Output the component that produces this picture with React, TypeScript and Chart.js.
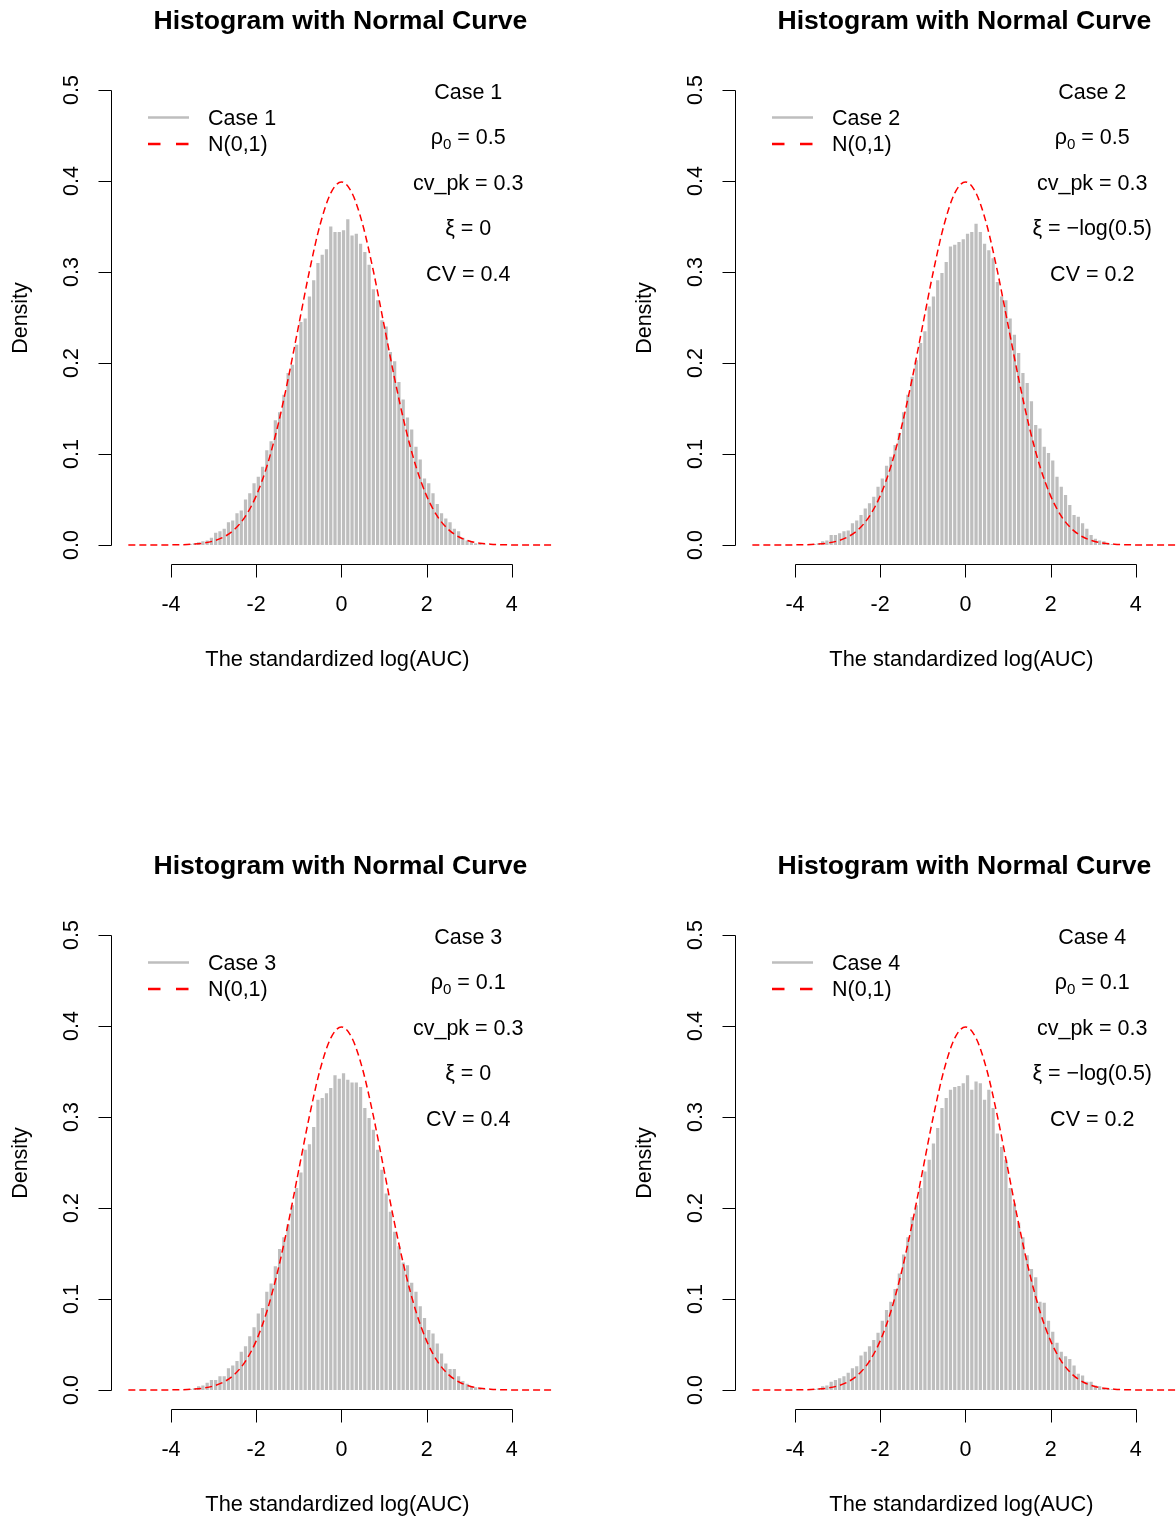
import React, { useEffect, useRef } from "react";
import { Chart, registerables } from "chart.js";

Chart.register(...registerables);

// ---------- data ----------
const BIN_CENTERS = [
  -3.55, -3.45, -3.35, -3.25, -3.15, -3.05, -2.95, -2.85, -2.75, -2.65,
  -2.55, -2.45, -2.35, -2.25, -2.15, -2.05, -1.95, -1.85, -1.75, -1.65,
  -1.55, -1.45, -1.35, -1.25, -1.15, -1.05, -0.95, -0.85, -0.75, -0.65,
  -0.55, -0.45, -0.35, -0.25, -0.15, -0.05, 0.05, 0.15, 0.25, 0.35,
  0.45, 0.55, 0.65, 0.75, 0.85, 0.95, 1.05, 1.15, 1.25, 1.35,
  1.45, 1.55, 1.65, 1.75, 1.85, 1.95, 2.05, 2.15, 2.25, 2.35,
  2.45, 2.55, 2.65, 2.75, 2.85, 2.95, 3.05, 3.15, 3.25, 3.35,
  3.45,
];

const CASE1_DENSITY = [
  0.001, 0.002, 0.003, 0.004, 0.005, 0.008, 0.0135, 0.015, 0.018, 0.025,
  0.027, 0.035, 0.038, 0.05, 0.057, 0.068, 0.075, 0.086, 0.104, 0.114,
  0.137, 0.146, 0.165, 0.189, 0.198, 0.22, 0.245, 0.249, 0.273, 0.291,
  0.31, 0.319, 0.325, 0.35, 0.344, 0.344, 0.346, 0.358, 0.34, 0.342,
  0.331, 0.322, 0.308, 0.281, 0.269, 0.247, 0.24, 0.212, 0.202, 0.179,
  0.16, 0.14, 0.127, 0.108, 0.094, 0.073, 0.068, 0.057, 0.045, 0.035,
  0.029, 0.025, 0.018, 0.015, 0.008, 0.005, 0.004, 0.002, 0.001, 0.0005,
  0,
];

const CASE2_DENSITY = [
  0.001, 0.002, 0.004, 0.005, 0.011, 0.011, 0.013, 0.015, 0.016, 0.024,
  0.027, 0.033, 0.04, 0.046, 0.053, 0.064, 0.073, 0.087, 0.097, 0.11,
  0.123, 0.146, 0.165, 0.185, 0.203, 0.222, 0.235, 0.262, 0.273, 0.291,
  0.299, 0.311, 0.328, 0.33, 0.333, 0.336, 0.342, 0.344, 0.353, 0.344,
  0.331, 0.324, 0.315, 0.289, 0.273, 0.269, 0.249, 0.231, 0.211, 0.189,
  0.178, 0.158, 0.132, 0.128, 0.108, 0.101, 0.093, 0.075, 0.064, 0.055,
  0.044, 0.033, 0.031, 0.024, 0.018, 0.011, 0.007, 0.005, 0.004, 0.002,
  0.001,
];

const CASE3_DENSITY = [
  0.001, 0.002, 0.004, 0.005, 0.008, 0.011, 0.011, 0.015, 0.015, 0.024,
  0.027, 0.032, 0.042, 0.048, 0.059, 0.069, 0.084, 0.09, 0.108, 0.117,
  0.136, 0.155, 0.168, 0.182, 0.203, 0.222, 0.239, 0.264, 0.27, 0.289,
  0.319, 0.321, 0.326, 0.332, 0.346, 0.342, 0.348, 0.341, 0.338, 0.338,
  0.333, 0.31, 0.299, 0.286, 0.264, 0.242, 0.216, 0.196, 0.174, 0.158,
  0.14, 0.137, 0.118, 0.108, 0.092, 0.079, 0.066, 0.062, 0.051, 0.04,
  0.029, 0.023, 0.023, 0.015, 0.01, 0.007, 0.004, 0.003, 0.0015, 0.0005,
  0,
];

const CASE4_DENSITY = [
  0.001, 0.002, 0.004, 0.005, 0.009, 0.011, 0.013, 0.015, 0.019, 0.024,
  0.026, 0.038, 0.042, 0.048, 0.055, 0.063, 0.076, 0.088, 0.097, 0.111,
  0.128, 0.149, 0.168, 0.19, 0.203, 0.222, 0.24, 0.253, 0.271, 0.288,
  0.31, 0.321, 0.33, 0.333, 0.334, 0.337, 0.346, 0.33, 0.339, 0.337,
  0.319, 0.33, 0.31, 0.282, 0.267, 0.253, 0.222, 0.205, 0.184, 0.168,
  0.148, 0.133, 0.124, 0.097, 0.096, 0.076, 0.064, 0.052, 0.042, 0.037,
  0.034, 0.027, 0.018, 0.016, 0.009, 0.009, 0.005, 0.004, 0.002, 0.0015,
  0.001,
];

// N(0,1) density curve, tabulated
const CURVE_X = [
  -5, -4.5, -4, -3.75, -3.5, -3.25, -3, -2.75, -2.5, -2.25, -2, -1.75, -1.5,
  -1.25, -1, -0.75, -0.5, -0.25, 0, 0.25, 0.5, 0.75, 1, 1.25, 1.5, 1.75, 2,
  2.25, 2.5, 2.75, 3, 3.25, 3.5, 3.75, 4, 4.5, 5,
];
const CURVE_Y = [
  0.0000015, 0.000016, 0.000134, 0.000353, 0.000873, 0.002029, 0.004432,
  0.009094, 0.017528, 0.03174, 0.053991, 0.086277, 0.129518, 0.182649,
  0.241971, 0.301137, 0.352065, 0.386668, 0.398942, 0.386668, 0.352065,
  0.301137, 0.241971, 0.182649, 0.129518, 0.086277, 0.053991, 0.03174,
  0.017528, 0.009094, 0.004432, 0.002029, 0.000873, 0.000353, 0.000134,
  0.000016, 0.0000015,
];

const X_TICKS = [-4, -2, 0, 2, 4];
const X_TICK_LABELS = ["-4", "-2", "0", "2", "4"];
const Y_TICKS = [0, 0.1, 0.2, 0.3, 0.4, 0.5];
const Y_TICK_LABELS = ["0.0", "0.1", "0.2", "0.3", "0.4", "0.5"];

const CASE_NAMES = ["Case 1", "Case 2", "Case 3", "Case 4"];
const RHO_VALUES = ["0.5", "0.5", "0.1", "0.1"];
const CVPK_VALUES = ["0.3", "0.3", "0.3", "0.3"];
const XI_VALUES = ["0", "\u2212log(0.5)", "0", "\u2212log(0.5)"];
const CV_VALUES = ["0.4", "0.2", "0.4", "0.2"];
const CASE_VALUES = [CASE1_DENSITY, CASE2_DENSITY, CASE3_DENSITY, CASE4_DENSITY];

const ANNOT_X = 3;
const ANNOT_Y = [0.5, 0.45, 0.4, 0.35, 0.3];

const TITLE = "Histogram with Normal Curve";
const X_TITLE = "The standardized log(AUC)";
const Y_TITLE = "Density";
const LEGEND_CURVE = "N(0,1)";

// ---------- styling ----------
const FONT = '"Liberation Sans", Arial, Helvetica, sans-serif';
const FS = 21.5;
const W = 588;
const H = 674;
const POSITIONS = [
  { left: 0, top: 0 },
  { left: 624, top: 0 },
  { left: 0, top: 845 },
  { left: 624, top: 845 },
];

type Part = { t: string; sub?: boolean };

function drawMath(ctx: CanvasRenderingContext2D, parts: Part[], cx: number, cy: number) {
  const widths = parts.map((p) => {
    ctx.font = `${p.sub ? FS * 0.7 : FS}px ${FONT}`;
    return ctx.measureText(p.t).width;
  });
  const total = widths.reduce((a, b) => a + b, 0);
  let xx = cx - total / 2;
  const base = cy + FS * 0.36;
  ctx.textAlign = "left";
  ctx.textBaseline = "alphabetic";
  parts.forEach((p, i) => {
    ctx.font = `${p.sub ? FS * 0.7 : FS}px ${FONT}`;
    ctx.fillText(p.t, xx, base + (p.sub ? FS * 0.2 : 0));
    xx += widths[i];
  });
}

function rPlugin(idx: number) {
  return {
    id: "rstyle" + idx,
    afterDraw(chart: any) {
      const { ctx, chartArea: a, scales } = chart;
      const xs = scales.x;
      const ys = scales.y;
      ctx.save();
      ctx.setLineDash([]);
      ctx.strokeStyle = "#000";
      ctx.lineWidth = 1;

      // x axis
      const yb = Math.round(a.bottom) + 0.5;
      ctx.beginPath();
      ctx.moveTo(Math.round(xs.getPixelForValue(X_TICKS[0])) + 0.5, yb);
      ctx.lineTo(Math.round(xs.getPixelForValue(X_TICKS[X_TICKS.length - 1])) + 0.5, yb);
      X_TICKS.forEach((v) => {
        const px = Math.round(xs.getPixelForValue(v)) + 0.5;
        ctx.moveTo(px, yb);
        ctx.lineTo(px, yb + 13);
      });
      // y axis
      const xl = Math.round(a.left) + 0.5;
      ctx.moveTo(xl, Math.round(ys.getPixelForValue(Y_TICKS[0])) + 0.5);
      ctx.lineTo(xl, Math.round(ys.getPixelForValue(Y_TICKS[Y_TICKS.length - 1])) + 0.5);
      Y_TICKS.forEach((v) => {
        const py = Math.round(ys.getPixelForValue(v)) + 0.5;
        ctx.moveTo(xl, py);
        ctx.lineTo(xl - 13, py);
      });
      ctx.stroke();

      ctx.fillStyle = "#000";
      ctx.font = `${FS}px ${FONT}`;
      ctx.textAlign = "center";
      ctx.textBaseline = "middle";
      X_TICKS.forEach((v, i) => {
        ctx.fillText(X_TICK_LABELS[i], xs.getPixelForValue(v), a.bottom + 40.5);
      });
      Y_TICKS.forEach((v, i) => {
        ctx.save();
        ctx.translate(a.left - 39.5, ys.getPixelForValue(v));
        ctx.rotate(-Math.PI / 2);
        ctx.fillText(Y_TICK_LABELS[i], 0, 0);
        ctx.restore();
      });

      const cx = (a.left + a.right) / 2;
      // axis titles
      ctx.font = `${FS + 0.3}px ${FONT}`;
      ctx.fillText(X_TITLE, cx - 4, a.bottom + 95.5);
      ctx.font = `${FS}px ${FONT}`;
      ctx.save();
      ctx.translate(21, (ys.getPixelForValue(0) + ys.getPixelForValue(0.5)) / 2 + 0.5);
      ctx.rotate(-Math.PI / 2);
      ctx.fillText(Y_TITLE, 0, 0);
      ctx.restore();

      // main title
      ctx.font = `bold 26.6px ${FONT}`;
      ctx.textBaseline = "alphabetic";
      ctx.fillText(TITLE, cx - 1, 28.5);

      // legend
      ctx.lineWidth = 2.5;
      ctx.strokeStyle = "#BEBEBE";
      ctx.beginPath();
      ctx.moveTo(148, 117.5);
      ctx.lineTo(189, 117.5);
      ctx.stroke();
      ctx.strokeStyle = "#FF0000";
      ctx.setLineDash([12.5, 15.5]);
      ctx.beginPath();
      ctx.moveTo(148, 144);
      ctx.lineTo(189, 144);
      ctx.stroke();
      ctx.setLineDash([]);
      ctx.font = `${FS}px ${FONT}`;
      ctx.textAlign = "left";
      ctx.textBaseline = "middle";
      ctx.fillText(CASE_NAMES[idx], 208, 119);
      ctx.fillText(LEGEND_CURVE, 208, 145.5);

      // annotations
      const ax = xs.getPixelForValue(ANNOT_X);
      const lines: Part[][] = [
        [{ t: CASE_NAMES[idx] }],
        [{ t: "\u03C1" }, { t: "0", sub: true }, { t: " = " + RHO_VALUES[idx] }],
        [{ t: "cv_pk = " + CVPK_VALUES[idx] }],
        [{ t: "\u03BE = " + XI_VALUES[idx] }],
        [{ t: "CV = " + CV_VALUES[idx] }],
      ];
      lines.forEach((parts, i) => {
        drawMath(ctx, parts, ax - 1, ys.getPixelForValue(ANNOT_Y[i]) + 1);
      });

      ctx.restore();
    },
  };
}

function Panel({ idx }: { idx: number }) {
  const ref = useRef<HTMLCanvasElement | null>(null);
  useEffect(() => {
    if (!ref.current) return;
    const values = CASE_VALUES[idx];
    const chart = new Chart(ref.current, {
      type: "bar",
      data: {
        datasets: [
          {
            type: "line",
            data: CURVE_X.map((x, i) => ({ x, y: CURVE_Y[i] })),
            borderColor: "#FF0000",
            borderWidth: 1.5,
            borderDash: [7, 4],
            pointRadius: 0,
            fill: false,
            cubicInterpolationMode: "monotone",
            order: 0,
          } as any,
          {
            type: "bar",
            data: BIN_CENTERS.map((x, i) => ({ x, y: values[i] })),
            backgroundColor: "#BEBEBE",
            borderWidth: 0,
            categoryPercentage: 1,
            barPercentage: 0.76,
            order: 1,
          } as any,
        ],
      },
      options: {
        animation: false,
        responsive: false,
        events: [],
        layout: { padding: { left: 111.3, right: 16.5, top: 44.5, bottom: 109.7 } },
        scales: {
          x: { type: "linear", min: -5.4, max: 5.4, display: false, offset: false },
          y: { type: "linear", min: -0.0212, max: 0.55, display: false },
        },
        plugins: {
          legend: { display: false },
          tooltip: { enabled: false },
          title: { display: false },
        },
      } as any,
      plugins: [rPlugin(idx)],
    });
    return () => chart.destroy();
  }, [idx]);
  const pos = POSITIONS[idx];
  return (
    <canvas
      ref={ref}
      width={W}
      height={H}
      style={{ position: "absolute", left: pos.left, top: pos.top, width: W, height: H }}
    />
  );
}

export default function App() {
  return (
    <div
      style={{
        position: "absolute",
        left: 0,
        top: 0,
        width: 1176,
        height: 1519,
        overflow: "hidden",
        background: "#fff",
      }}
    >
      {[0, 1, 2, 3].map((i) => (
        <Panel key={i} idx={i} />
      ))}
    </div>
  );
}
